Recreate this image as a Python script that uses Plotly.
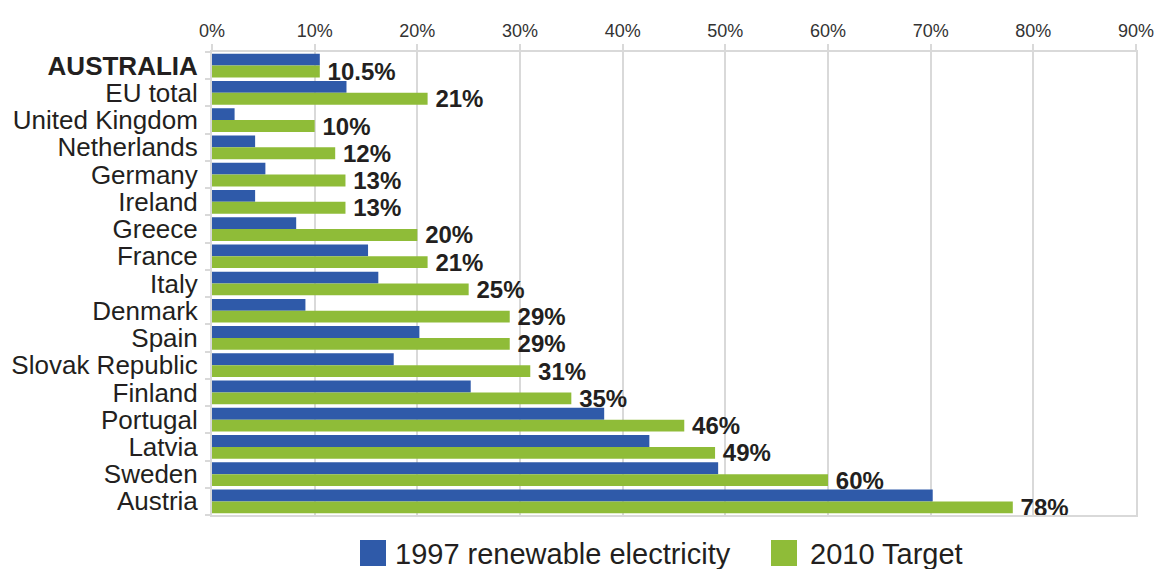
import plotly.graph_objects as go

# Renewable electricity share: 1997 actual vs 2010 target (%)
countries = [
    "AUSTRALIA", "EU total", "United Kingdom", "Netherlands", "Germany",
    "Ireland", "Greece", "France", "Italy", "Denmark", "Spain",
    "Slovak Republic", "Finland", "Portugal", "Latvia", "Sweden", "Austria",
]
share_1997 = [10.5, 13.1, 2.2, 4.2, 5.2, 4.2, 8.2, 15.2, 16.2, 9.1, 20.2,
              17.7, 25.2, 38.2, 42.6, 49.3, 70.2]
target_2010 = [10.5, 21, 10, 12, 13, 13, 20, 21, 25, 29, 29, 31, 35, 46, 49,
               60, 78]

x_ticks = [0, 10, 20, 30, 40, 50, 60, 70, 80, 90]

BLUE = "#2f5aa9"
GREEN = "#8fbc38"
TEXT = "#231f20"
GRID = "#d9d9d9"
FONT = "Liberation Sans, Arial, sans-serif"

W, H = 1154, 569
L, R, T, B = 212, 18, 52, 54
plot_w, plot_h = W - L - R, H - T - B


def px_x(px):
    return (px - L) / plot_w


def px_y(py):
    return (H - B - py) / plot_h


fig = go.Figure()
fig.add_trace(go.Bar(
    y=countries, x=share_1997, orientation="h", name="1997 renewable electricity",
    marker=dict(color=BLUE, line=dict(width=0)), showlegend=False,
))
fig.add_trace(go.Bar(
    y=countries, x=target_2010, orientation="h", name="2010 Target",
    marker=dict(color=GREEN, line=dict(width=0)), showlegend=False,
    # thin space keeps the value labels clear of the bar ends
    text=[f"\u2009{v:g}%" for v in target_2010], textposition="outside",
    textfont=dict(family=FONT, size=24, color=TEXT, weight="bold"),
    constraintext="none", cliponaxis=False,
))

tick_text = [f"<b>{c}</b>" if c == "AUSTRALIA" else c for c in countries]

fig.update_layout(
    width=W, height=H,
    margin=dict(l=L, r=R, t=T, b=B, autoexpand=False),
    paper_bgcolor="white", plot_bgcolor="white",
    barmode="group", bargap=0.13, bargroupgap=0,
    font=dict(family=FONT, color=TEXT),
    xaxis=dict(
        side="top", range=[0, 90], tickvals=x_ticks,
        ticktext=[f"{v}%" for v in x_ticks],
        tickfont=dict(size=18, color="#333333"),
        ticklabeloverflow="allow", automargin=False,
        showgrid=True, gridcolor=GRID, gridwidth=2,
        showline=True, linecolor=GRID, linewidth=2, mirror=True,
        ticks="outside", ticklen=6, tickcolor=GRID, tickwidth=2,
        zeroline=False, fixedrange=True,
    ),
    yaxis=dict(
        tickvals=countries, ticktext=tick_text,
        autorange="reversed", automargin=False,
        tickfont=dict(size=26, color=TEXT),
        showgrid=False, showline=True, linecolor=GRID, linewidth=2, mirror=True,
        ticks="outside", ticklen=5, tickcolor=GRID, tickwidth=2,
        tickson="boundaries", ticklabelstandoff=7, fixedrange=True,
    ),
)

# Legend keys drawn as large squares with labels below the plot
legend_items = [
    (BLUE, "1997 renewable electricity", 360, 393),
    (GREEN, "2010 Target", 771, 808),
]
for color, label, sq_left, txt_left in legend_items:
    fig.add_shape(
        type="rect", xref="paper", yref="paper",
        x0=px_x(sq_left), x1=px_x(sq_left + 26),
        y0=px_y(566), y1=px_y(540),
        fillcolor=color, line=dict(width=0),
    )
    fig.add_annotation(
        xref="paper", yref="paper", x=px_x(txt_left), y=px_y(554),
        xanchor="left", yanchor="middle", showarrow=False,
        text=label, font=dict(family=FONT, size=29, color=TEXT),
    )

fig.write_html("out.html", config={"displayModeBar": False})
